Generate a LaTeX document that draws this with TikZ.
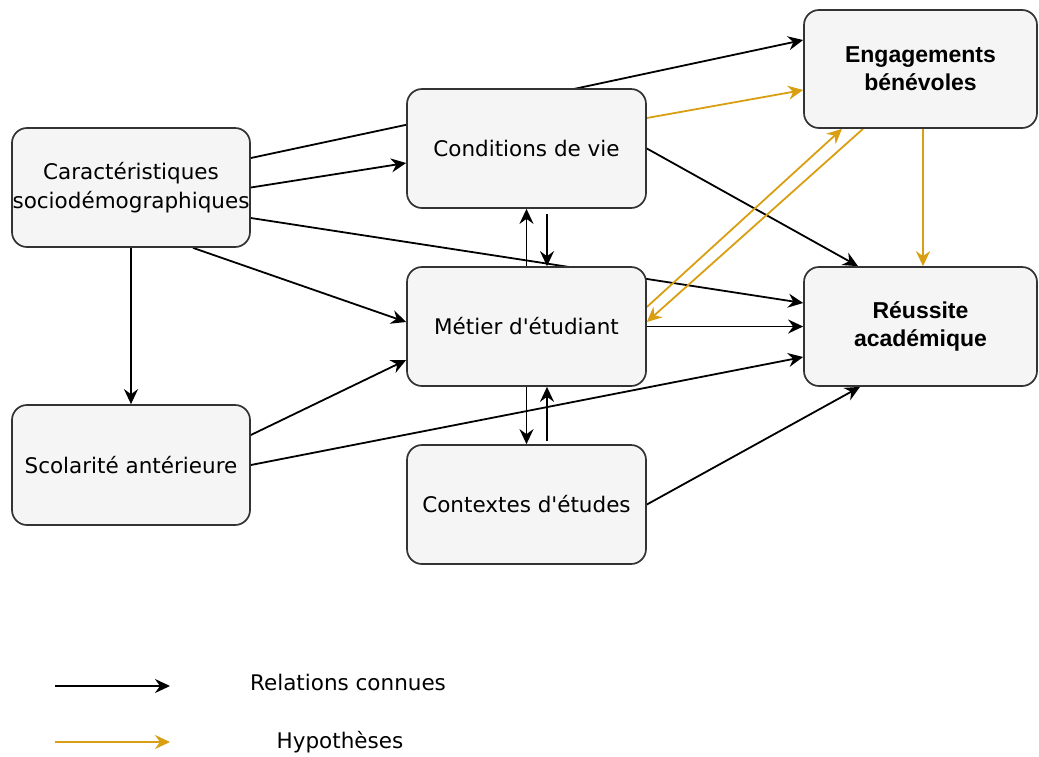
\documentclass[tikz,border=0pt]{standalone}
\usepackage{fontspec}
\setmainfont{DejaVu Sans}
\newfontfamily\headfont{Liberation Sans}
\usetikzlibrary{arrows.meta,backgrounds}

\definecolor{boxFill}{RGB}{245,245,245}
\definecolor{boxLine}{RGB}{51,51,51}
\definecolor{hypoColor}{RGB}{218,158,18}

\tikzset{
  factor/.style={draw=boxLine, fill=boxFill, line width=1.7pt, rounded corners=15pt,
    align=center, font=\fontsize{21.5}{29}\selectfont, inner sep=0pt},
  known/.style={draw=black, line width=1.8pt, -{Stealth[length=15pt,width=14pt,inset=5pt]}},
  hypo/.style={draw=hypoColor, line width=1.8pt, -{Stealth[length=15pt,width=14pt,inset=5pt]}},
  legendtext/.style={font=\fontsize{21.5}{29}\selectfont}
}

\begin{document}
\begin{tikzpicture}[x=1pt,y=-1pt]
  \useasboundingbox (0,0) rectangle (1039,756);
  % Boxes
  \node[factor, minimum width=238pt, minimum height=119pt] (socio) at (131,187.5) {Caractéristiques\\sociodémographiques};
  \node[factor, minimum width=239pt, minimum height=119pt] (cond) at (526.5,148.5) {Conditions de vie};
  \node[factor, minimum width=233pt, minimum height=118pt, font=\headfont\bfseries\fontsize{23}{28}\selectfont] (engag) at (920.5,69) {Engagements\\bénévoles};
  \node[factor, minimum width=239pt, minimum height=119pt] (metier) at (526.5,326.5) {Métier d\textquotesingle étudiant};
  \node[factor, minimum width=233pt, minimum height=119pt, font=\headfont\bfseries\fontsize{23}{28}\selectfont] (reussite) at (920.5,326.5) {Réussite\\académique};
  \node[factor, minimum width=238pt, minimum height=120pt] (scol) at (131,465) {Scolarité antérieure};
  \node[factor, minimum width=239pt, minimum height=119pt] (ctx) at (526.5,504.5) {Contextes d\textquotesingle études};
  % Relations
  \begin{scope}[on background layer]
    \draw[known] (socio.east) -- ([yshift=-14.5pt]cond.west);
    \draw[known] ([yshift=29.5pt]socio.east) -- ([yshift=29pt]engag.west);
    \draw[known] ([yshift=-30.5pt]socio.east) -- ([yshift=23.5pt]reussite.west);
    \draw[known] ([xshift=62pt]socio.south) -- ([yshift=4.5pt]metier.west);
    \draw[known] (socio.south) -- (scol.north);
    \draw[known] (metier.north) -- (cond.south);
    \draw[known] ([xshift=20.5pt,yshift=-5pt]cond.south) -- ([xshift=20.5pt]metier.north);
    \draw[known] (cond.east) -- ([xshift=-62.5pt]reussite.north);
    \draw[known] (metier.east) -- (reussite.west);
    \draw[known] (scol.east) -- ([yshift=-30.5pt]reussite.west);
    \draw[known] ([yshift=30pt]scol.east) -- ([yshift=-33.5pt]metier.west);
    \draw[known] (metier.south) -- (ctx.north);
    \draw[known] ([xshift=20.5pt,yshift=3pt]ctx.north) -- ([xshift=20.5pt]metier.south);
    \draw[known] (ctx.east) -- ([xshift=-60.5pt]reussite.south);
    % Hypotheses
    \draw[hypo] ([yshift=30.5pt]cond.east) -- ([yshift=-21pt]engag.west);
    \draw[hypo] ([yshift=19.5pt]metier.east) -- ([xshift=-78.5pt]engag.south);
    \draw[hypo] ([xshift=-57.5pt]engag.south) -- ([yshift=4.5pt]metier.east);
    \draw[hypo] ([xshift=2.5pt]engag.south) -- ([xshift=2.5pt]reussite.north);
  \end{scope}
  % Legend
  \coordinate (knownA) at (55,686);
  \coordinate (knownB) at (170,686);
  \coordinate (hypoA) at (55,742);
  \coordinate (hypoB) at (170,742);
  \draw[known] (knownA) -- (knownB);
  \draw[hypo] (hypoA) -- (hypoB);
  \node[legendtext] (knownText) at (348,682) {Relations connues};
  \node[legendtext] (hypoText) at (340,742) {Hypothèses};
\end{tikzpicture}
\end{document}
